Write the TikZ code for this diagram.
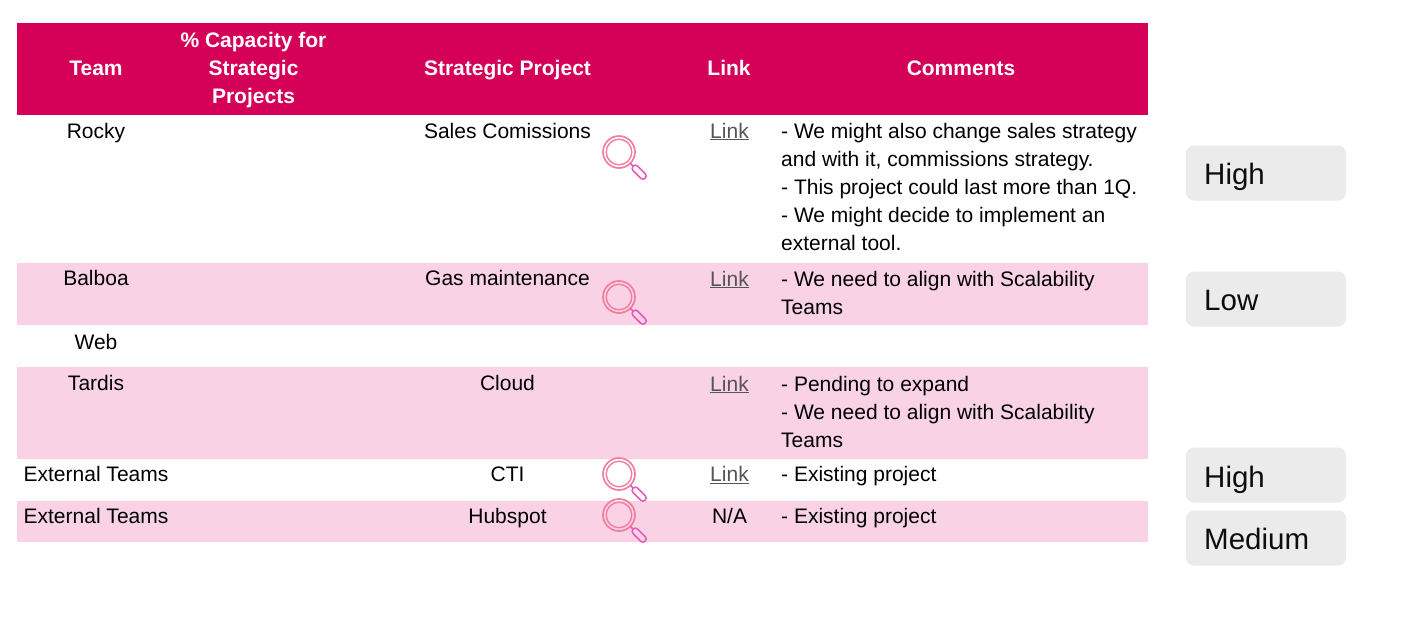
\documentclass[tikz,border=0pt]{standalone}
\usepackage{fontspec}
\setmainfont{Liberation Sans}
\definecolor{hdr}{HTML}{D50057}
\definecolor{rowpink}{HTML}{F9D2E5}
\definecolor{badge}{HTML}{EBEBEB}
\definecolor{linkgray}{HTML}{555555}
\definecolor{lensA}{HTML}{F27E9F}
\definecolor{lensB}{HTML}{E858B8}
\tikzset{
  x=1pt,y=-1pt,
  band/.style={fill=#1,draw=none},
  cell/.style={font=\fontsize{21}{28}\selectfont,text=black,inner sep=0pt,anchor=base},
  headcell/.style={font=\fontsize{21}{28}\selectfont\bfseries,text=white,inner sep=0pt,anchor=base,align=center},
  comment/.style={font=\fontsize{21}{28}\selectfont,text=black,inner sep=0pt,anchor=base west,align=left},
  linkcell/.style={cell,text=linkgray},
  badgebox/.style={fill=badge,draw=none,rounded corners=8pt,minimum width=160pt,minimum height=55pt,inner sep=0pt},
  badgetext/.style={font=\fontsize{29.5}{34}\selectfont,text=black!95,inner sep=0pt,anchor=base west},
  lens/.pic={
    \draw[lensA,line width=1.7pt] (0,0) circle[radius=16];
    \draw[lensA,line width=1.4pt] (0,0) circle[radius=12.8];
    \draw[lensB,line width=1.5pt] (11.6,11.6) -- (14,14);
    \draw[lensB,line width=1.5pt,rotate=-45,rounded corners=3pt] (20,-3.2) rectangle (37,3.2);
  }
}
\newcommand{\ulink}[1]{\underline{#1}}
\begin{document}
\begin{tikzpicture}
\useasboundingbox (0,0) rectangle (1402,622);
\fill[white] (0,0) rectangle (1402,622);
\fill[band=hdr] (17,23) rectangle (1148,115);
\fill[band=rowpink] (17,263) rectangle (1148,325);
\fill[band=rowpink] (17,367) rectangle (1148,459);
\fill[band=rowpink] (17,501) rectangle (1148,542);

\node[headcell] (hTeam) at (96,75) {Team};
\node[headcell] (hCap) at (253.5,103) {\% Capacity for\\Strategic\\Projects};
\node[headcell] (hProj) at (507.5,75) {Strategic Project};
\node[headcell] (hLink) at (729,75) {Link};
\node[headcell] (hCom) at (961,75) {Comments};

\node[cell] (t1) at (96,138) {Rocky};
\node[cell] (p1) at (507.5,138) {Sales Comissions};
\node[linkcell] (l1) at (729.5,138) {\ulink{Link}};
\node[comment] (c1) at (781,250.5) {- We might also change sales strategy\\and with it, commissions strategy.\\- This project could last more than 1Q.\\- We might decide to implement an\\external tool.};

\node[cell] (t2) at (96,285) {Balboa};
\node[cell] (p2) at (507.5,285) {Gas maintenance};
\node[linkcell] (l2) at (729.5,286) {\ulink{Link}};
\node[comment] (c2) at (781,314) {- We need to align with Scalability\\Teams};

\node[cell] (t3) at (96,349) {Web};

\node[cell] (t4) at (96,390) {Tardis};
\node[cell] (p4) at (507.5,390) {Cloud};
\node[linkcell] (l4) at (729.5,391) {\ulink{Link}};
\node[comment] (c4) at (781,447) {- Pending to expand\\- We need to align with Scalability\\Teams};

\node[cell] (t5) at (96,481) {External Teams};
\node[cell] (p5) at (507.5,481) {CTI};
\node[linkcell] (l5) at (729.5,481.5) {\ulink{Link}};
\node[comment] (c5) at (781,481.5) {- Existing project};

\node[cell] (t6) at (96,523) {External Teams};
\node[cell] (p6) at (507.5,523) {Hubspot};
\node[cell] (l6) at (729.5,523) {N/A};
\node[comment] (c6) at (781,523) {- Existing project};

\pic (m1) at (619,152) {lens};
\pic (m2) at (619,297) {lens};
\pic (m3) at (619,474) {lens};
\pic (m4) at (619,515) {lens};

\node[badgebox] (b1) at (1266,173) {};
\node[badgebox] (b2) at (1266,299) {};
\node[badgebox] (b3) at (1266,475) {};
\node[badgebox] (b4) at (1266,538) {};
\node[badgetext] (bt1) at (1204,184) {High};
\node[badgetext] (bt2) at (1204,310) {Low};
\node[badgetext] (bt3) at (1204,487) {High};
\node[badgetext] (bt4) at (1204,549) {Medium};
\end{tikzpicture}
\end{document}
